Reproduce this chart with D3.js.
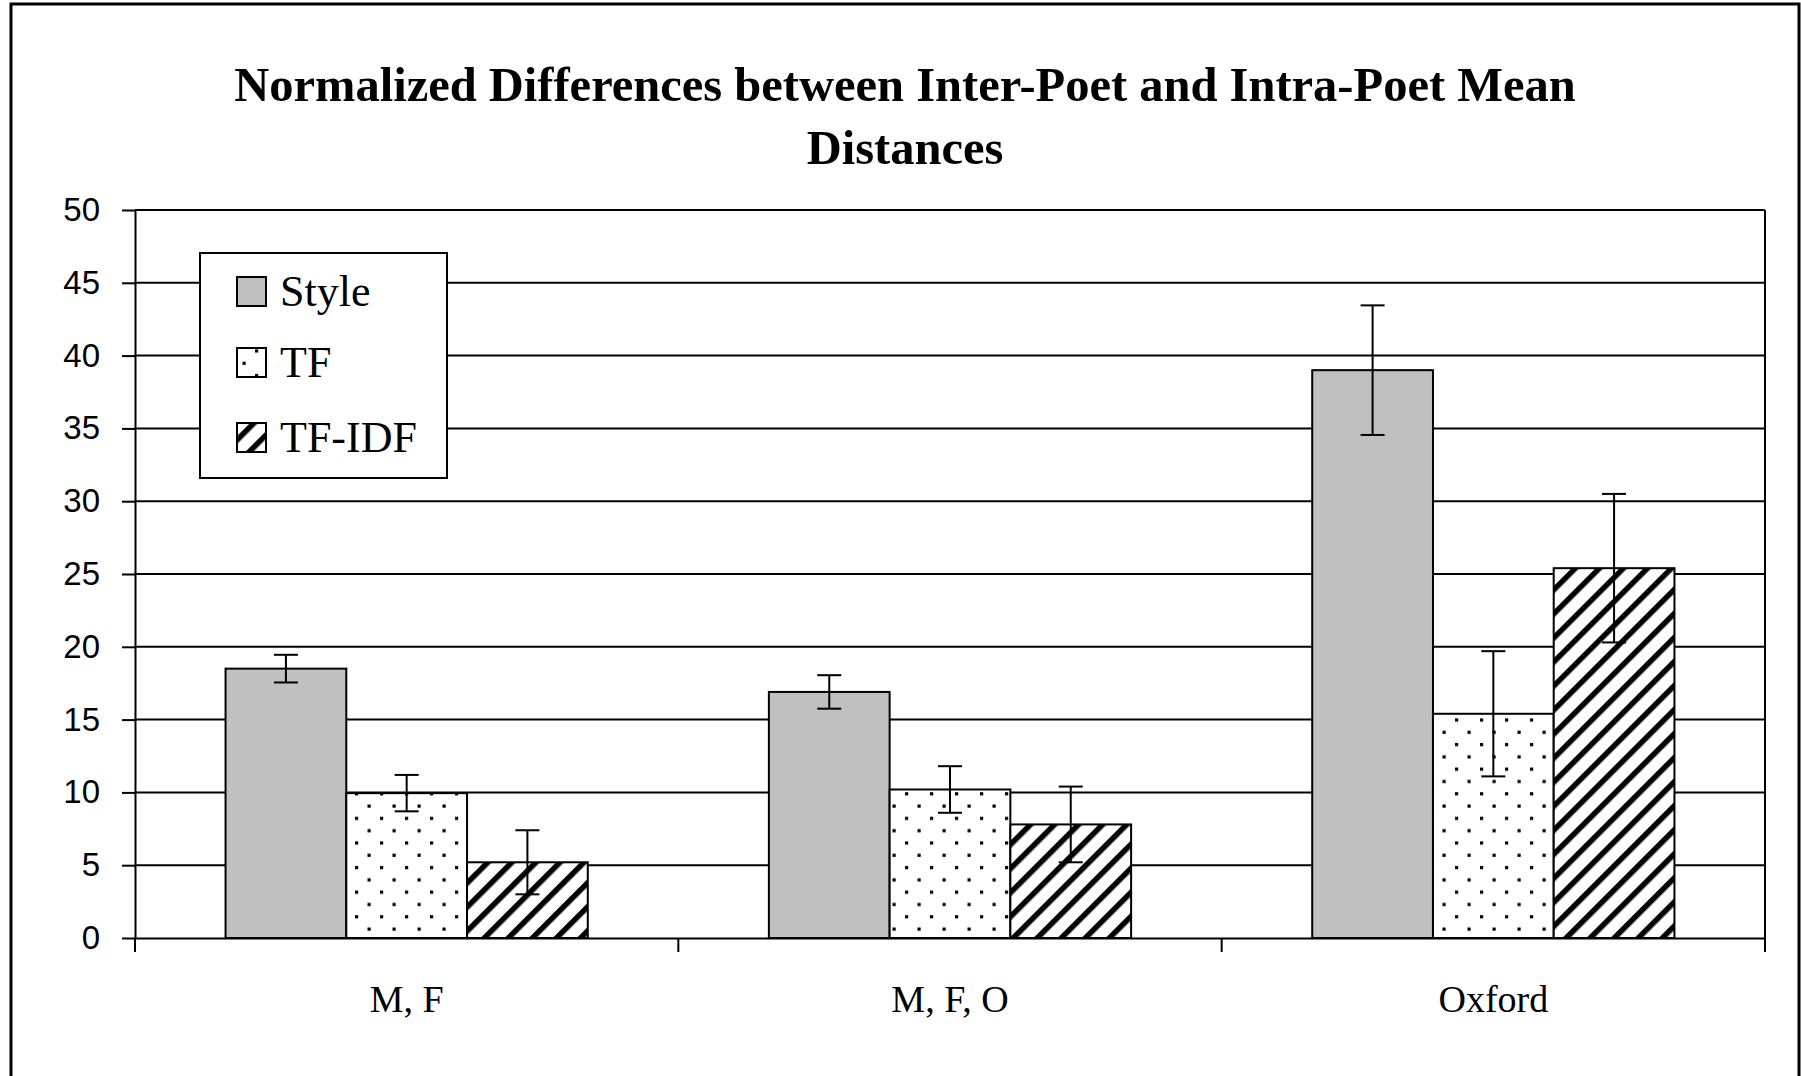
<!DOCTYPE html>
<html>
<head>
<meta charset="utf-8">
<script src="https://cdn.jsdelivr.net/npm/d3@7"></script>
<style>
  html, body { margin: 0; padding: 0; background: #fff; }
  svg { display: block; }
</style>
</head>
<body>
<svg id="chart" width="1801" height="1076"></svg>
<script>
// ---- data ----
const titleLines = ["Normalized Differences between Inter-Poet and Intra-Poet Mean", "Distances"];
const categories = ["M, F", "M, F, O", "Oxford"];
const seriesNames = ["Style", "TF", "TF-IDF"];
const styleValues = [18.5, 16.9, 39.0];
const styleErrors = [0.95, 1.15, 4.45];
const tfValues = [9.95, 10.2, 15.4];
const tfErrors = [1.25, 1.6, 4.3];
const tfidfValues = [5.2, 7.8, 25.4];
const tfidfErrors = [2.2, 2.6, 5.1];
const yTicks = [0, 5, 10, 15, 20, 25, 30, 35, 40, 45, 50];

const seriesValues = [styleValues, tfValues, tfidfValues];
const seriesErrors = [styleErrors, tfErrors, tfidfErrors];

// ---- layout ----
const plot = { left: 135, right: 1765, top: 210, bottom: 938 };
const svg = d3.select("#chart");

// outer frame
svg.append("rect")
  .attr("x", 11).attr("y", 4)
  .attr("width", 1788).attr("height", 1200)
  .attr("fill", "#fff").attr("stroke", "#000").attr("stroke-width", 3);

// patterns
const defs = svg.append("defs");
const dots = defs.append("pattern")
  .attr("id", "dots").attr("patternUnits", "userSpaceOnUse")
  .attr("width", 25).attr("height", 24.6);
dots.append("rect").attr("width", 25).attr("height", 24.6).attr("fill", "#fff");
dots.append("rect").attr("x", 5).attr("y", 5).attr("width", 3.2).attr("height", 3.2).attr("fill", "#000");
dots.append("rect").attr("x", 17.5).attr("y", 17.3).attr("width", 3.2).attr("height", 3.2).attr("fill", "#000");

const stripes = defs.append("pattern")
  .attr("id", "stripes").attr("patternUnits", "userSpaceOnUse")
  .attr("width", 17).attr("height", 17)
  .attr("patternTransform", "rotate(45)");
stripes.append("rect").attr("width", 17).attr("height", 17).attr("fill", "#fff");
stripes.append("rect").attr("x", 0).attr("y", 0).attr("width", 5.5).attr("height", 17).attr("fill", "#000");

const fills = ["#c0c0c0", "url(#dots)", "url(#stripes)"];

// scales
const y = d3.scaleLinear().domain([0, 50]).range([plot.bottom, plot.top]);
const x0 = d3.scaleBand().domain(categories).range([plot.left, plot.right]).padding(0);
const x1 = d3.scaleBand().domain(seriesNames).range([0, x0.bandwidth()])
  .paddingInner(0).paddingOuter(0.75);

// title
const title = svg.append("text")
  .attr("text-anchor", "middle")
  .attr("font-family", "'Liberation Serif', 'Times New Roman', serif")
  .attr("font-weight", "bold")
  .attr("font-size", 48.5);
title.append("tspan").attr("x", 905).attr("y", 101).text(titleLines[0]);
title.append("tspan").attr("x", 905).attr("y", 164).text(titleLines[1]);

// gridlines
svg.append("g").selectAll("line").data(yTicks.filter(d => d > 0)).join("line")
  .attr("x1", plot.left).attr("x2", plot.right)
  .attr("y1", d => y(d)).attr("y2", d => y(d))
  .attr("stroke", "#000").attr("stroke-width", 2);

// right border of plot
svg.append("line")
  .attr("x1", plot.right).attr("x2", plot.right)
  .attr("y1", plot.top).attr("y2", plot.bottom)
  .attr("stroke", "#000").attr("stroke-width", 2);

// bars
const data = [];
categories.forEach((c, ci) => {
  seriesNames.forEach((s, si) => {
    data.push({ cat: c, series: s, si, value: seriesValues[si][ci], err: seriesErrors[si][ci] });
  });
});

svg.append("g").selectAll("rect").data(data).join("rect")
  .attr("x", d => x0(d.cat) + x1(d.series))
  .attr("y", d => y(d.value))
  .attr("width", x1.bandwidth())
  .attr("height", d => y(0) - y(d.value))
  .attr("fill", d => fills[d.si])
  .attr("stroke", "#000").attr("stroke-width", 2);

// error bars
const eb = svg.append("g").attr("stroke", "#000").attr("stroke-width", 2);
const cx = d => x0(d.cat) + x1(d.series) + x1.bandwidth() / 2;
eb.selectAll("line.v").data(data).join("line").attr("class", "v")
  .attr("x1", cx).attr("x2", cx)
  .attr("y1", d => y(d.value + d.err)).attr("y2", d => y(d.value - d.err));
eb.selectAll("line.t").data(data).join("line").attr("class", "t")
  .attr("x1", d => cx(d) - 12).attr("x2", d => cx(d) + 12)
  .attr("y1", d => y(d.value + d.err)).attr("y2", d => y(d.value + d.err));
eb.selectAll("line.b").data(data).join("line").attr("class", "b")
  .attr("x1", d => cx(d) - 12).attr("x2", d => cx(d) + 12)
  .attr("y1", d => y(d.value - d.err)).attr("y2", d => y(d.value - d.err));

// y axis
const yAxis = svg.append("g").attr("transform", `translate(${plot.left},0)`)
  .call(d3.axisLeft(y).tickValues(yTicks).tickSize(13).tickPadding(22).tickSizeOuter(0));
yAxis.select(".domain").attr("stroke", "#000").attr("stroke-width", 2);
yAxis.selectAll(".tick line").attr("stroke", "#000").attr("stroke-width", 2);
yAxis.selectAll(".tick text")
  .attr("font-family", "'Liberation Sans', Arial, sans-serif")
  .attr("font-size", 33).attr("fill", "#000");

// x axis
const xAxis = svg.append("g").attr("transform", `translate(0,${plot.bottom})`)
  .call(d3.axisBottom(x0).tickSize(0).tickPadding(0).tickSizeOuter(0));
xAxis.select(".domain").attr("stroke", "#000").attr("stroke-width", 2);
xAxis.selectAll(".tick text")
  .attr("font-family", "'Liberation Serif', 'Times New Roman', serif")
  .attr("font-size", 38).attr("fill", "#000")
  .attr("dy", null).attr("y", 74);
// category boundary ticks
const bounds = categories.map(c => x0(c)).concat([x0(categories[categories.length - 1]) + x0.bandwidth()]);
xAxis.selectAll("line.bound").data(bounds).join("line").attr("class", "bound")
  .attr("x1", d => d).attr("x2", d => d).attr("y1", 0).attr("y2", 14)
  .attr("stroke", "#000").attr("stroke-width", 2);

// legend
const legend = svg.append("g");
legend.append("rect")
  .attr("x", 200).attr("y", 253).attr("width", 247).attr("height", 225)
  .attr("fill", "#fff").attr("stroke", "#000").attr("stroke-width", 2);
const itemY = [277, 348, 423];
seriesNames.forEach((s, i) => {
  legend.append("rect")
    .attr("x", 237).attr("y", itemY[i]).attr("width", 29).attr("height", 29)
    .attr("fill", fills[i]).attr("stroke", "#000").attr("stroke-width", 2);
  legend.append("text")
    .attr("x", 280).attr("y", itemY[i] + 29)
    .attr("font-family", "'Liberation Serif', 'Times New Roman', serif")
    .attr("font-size", 44).attr("fill", "#000")
    .text(s);
});
</script>
</body>
</html>
